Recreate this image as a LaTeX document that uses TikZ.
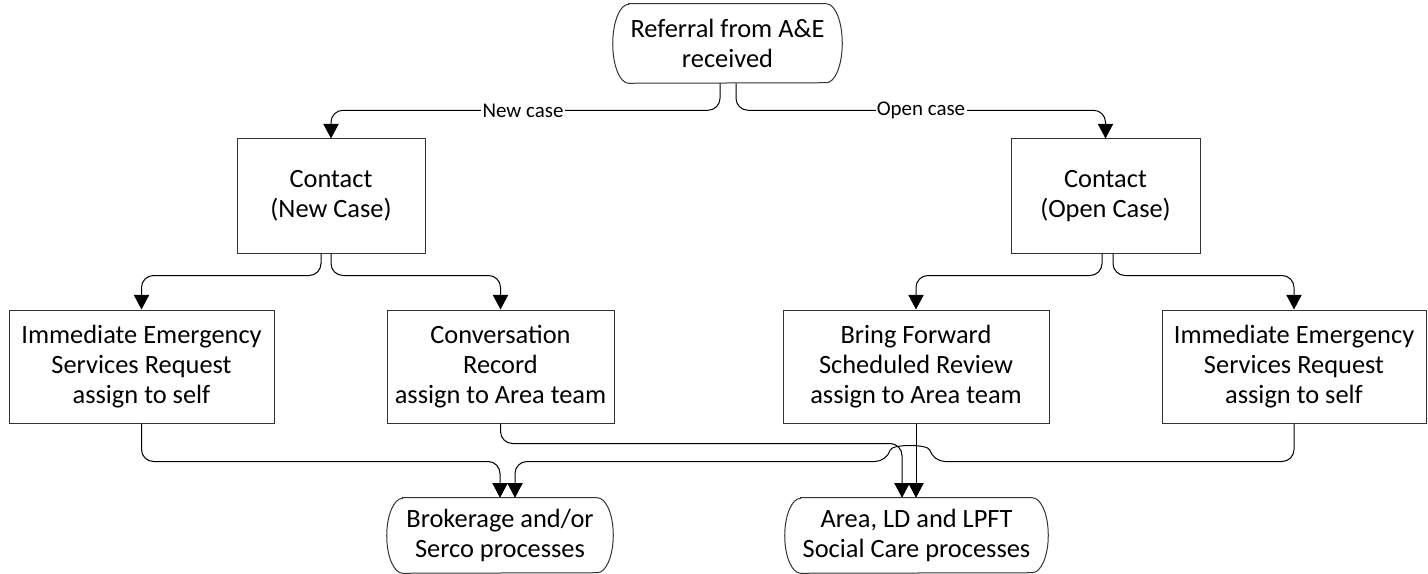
\documentclass[tikz,border=0pt]{standalone}
\usepackage{fontspec}
\setmainfont{Carlito}
\usetikzlibrary{arrows.meta,calc}
\tikzset{
  bord/.style={draw=black!80, line width=0.75pt},
  box/.style={bord, rectangle, inner sep=0pt, align=center,
    font=\fontsize{19.8}{22.5}\selectfont},
  term/.style={rectangle, inner sep=0pt, align=center,
    font=\fontsize{19.8}{22.5}\selectfont},
  arr/.style={draw=black, line width=0.75pt, rounded corners=9pt,
    -{Triangle[width=11.5pt,length=11pt]}},
  lbl/.style={fill=white, inner sep=1pt, font=\fontsize{15.7}{18}\selectfont}
}
% #1 node name, #2 half height
\newcommand\termoutline[2]{%
  \draw[bord] ([xshift=12pt]#1.north west) -- ([xshift=-12pt]#1.north east)
    arc[start angle=90,end angle=-90,x radius=12pt,y radius=#2]
    -- ([xshift=12pt]#1.south west)
    arc[start angle=270,end angle=90,x radius=12pt,y radius=#2] -- cycle;}
\begin{document}
\begin{tikzpicture}[x=0.75pt,y=-0.75pt]
\useasboundingbox (0,0) rectangle (1428,574);
% nodes
\node[term, minimum width=229*0.75pt, minimum height=79*0.75pt] (top) at (727.5,43.5) {Referral from A\&E\\received};
\termoutline{top}{29.625pt}
\node[box, minimum width=188*0.75pt, minimum height=114*0.75pt] (cNew) at (331,196) {Contact\\(New Case)};
\node[box, minimum width=189*0.75pt, minimum height=114*0.75pt] (cOpen) at (1105.5,196) {Contact\\(Open Case)};
\node[box, minimum width=265*0.75pt, minimum height=113*0.75pt] (immL) at (141.5,366.5) {Immediate Emergency\\Services Request\\assign to self};
\node[box, minimum width=227*0.75pt, minimum height=113*0.75pt] (conv) at (500.5,366.5) {Conversation\\Record\\assign to Area team};
\node[box, minimum width=266*0.75pt, minimum height=113*0.75pt] (bring) at (916,366.5) {Bring Forward\\Scheduled Review\\assign to Area team};
\node[box, minimum width=264*0.75pt, minimum height=113*0.75pt] (immR) at (1294,366.5) {Immediate Emergency\\Services Request\\assign to self};
\node[term, minimum width=226*0.75pt, minimum height=75*0.75pt] (brok) at (500,535.5) {Brokerage and/or\\Serco processes};
\termoutline{brok}{28.125pt}
\node[term, minimum width=263*0.75pt, minimum height=75*0.75pt] (area) at (916.5,535.5) {Area, LD and LPFT\\Social Care processes};
\termoutline{area}{28.125pt}
% connectors
\draw[arr] ($(top.south)+(-7.5,0)$) -- ++(0,27) -| (cNew.north);
\draw[arr] ($(top.south)+(8.5,0)$) -- ++(0,27) -| (cOpen.north);
\node[lbl] (lNew) at (523,110.5) {New case};
\node[lbl] (lOpen) at (921,110.5) {Open case};
\draw[arr] ($(cNew.south)+(-10,0)$) -- ++(0,22) -| (immL.north);
\draw[arr] (cNew.south) -- ++(0,22) -| (conv.north);
\draw[arr] ($(cOpen.south)+(-3.5,0)$) -- ++(0,22) -| (bring.north);
\draw[arr] ($(cOpen.south)+(7.5,0)$) -- ++(0,22) -| (immR.north);
\draw[arr] (immL.south) -- ++(0,38) -| (brok.north);
\draw[arr] (conv.south) -- ++(0,20) -| ($(area.north)+(-14.5,0)$);
\draw[arr] (bring.south) -- (bring.south |- area.north);
\draw[arr] (immR.south) -- ++(0,38) -- (933,461.5)
  .. controls (928,444) and (892,444) .. (887,461.5)
  -| ($(brok.north)+(15,0)$);
\end{tikzpicture}
\end{document}
